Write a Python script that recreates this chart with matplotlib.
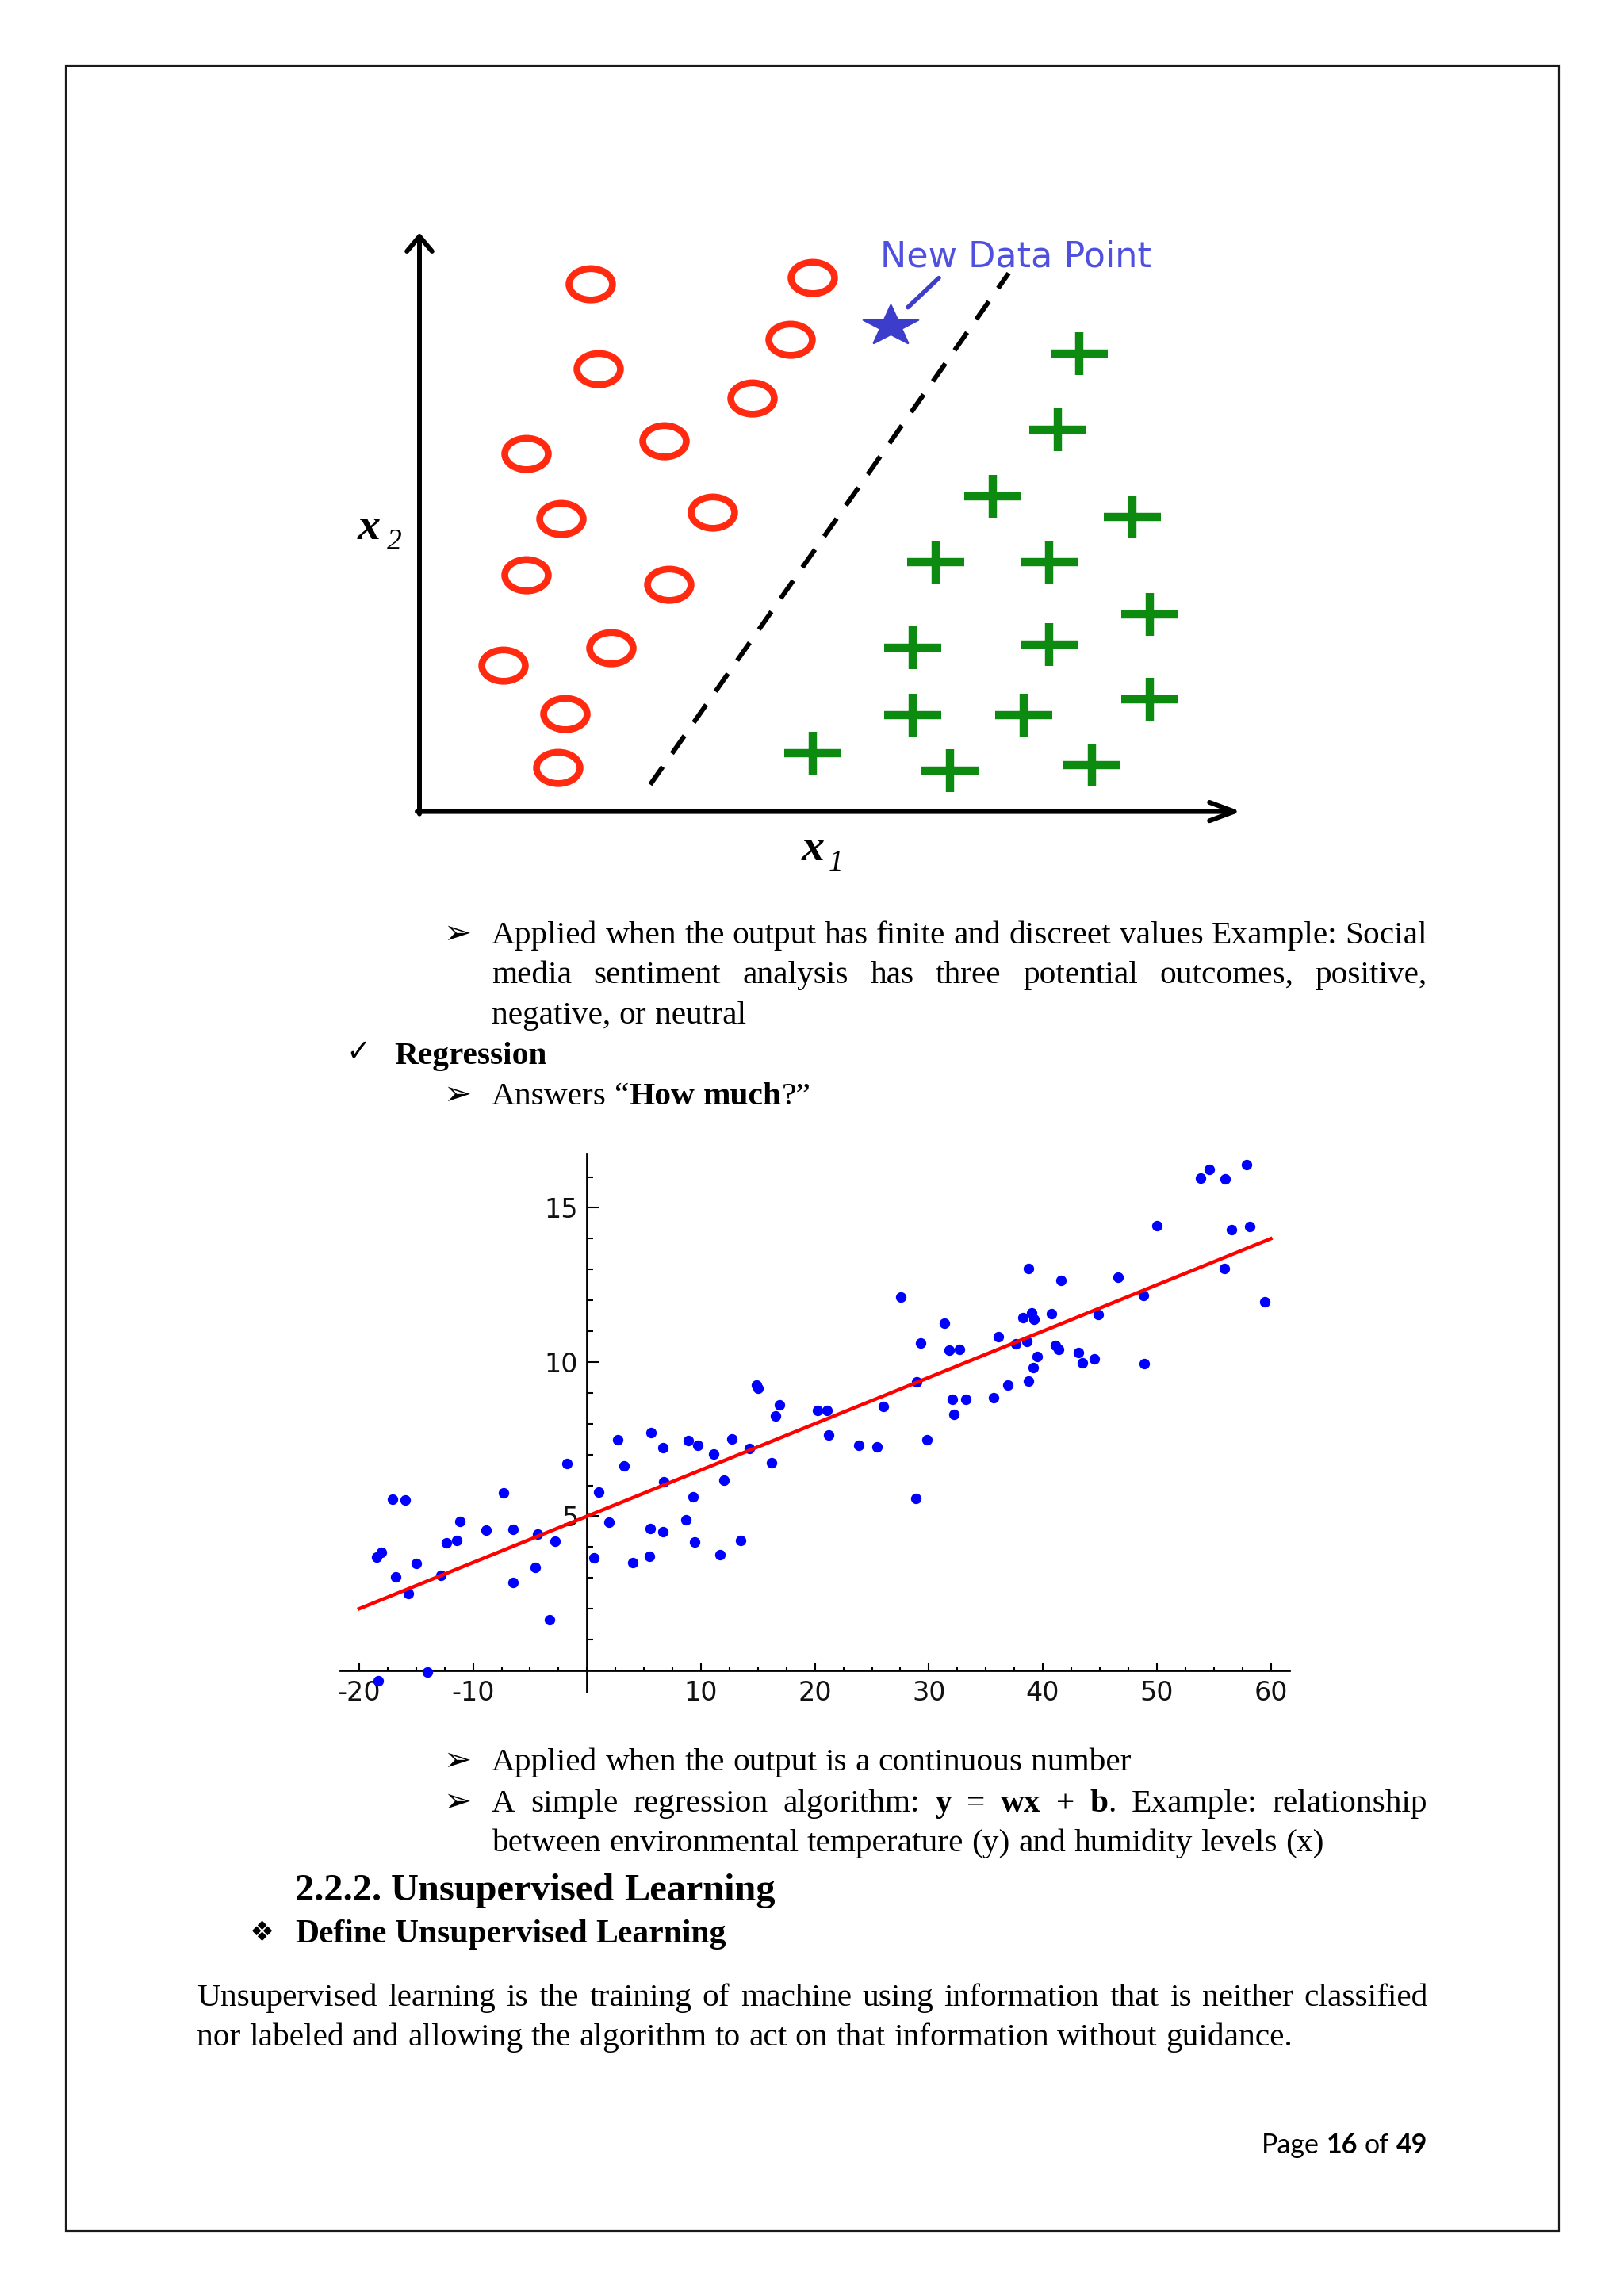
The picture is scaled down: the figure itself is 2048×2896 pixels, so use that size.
import numpy as np
import matplotlib
matplotlib.use('Agg')
import matplotlib.pyplot as plt
from matplotlib.path import Path
from matplotlib.markers import MarkerStyle
from matplotlib.transforms import Affine2D
from matplotlib.patches import Rectangle

plt.rcParams['axes.unicode_minus'] = False

# --- classification sketch: points in (x1, x2) units ---
circle_x1 = [2.16, 4.96, 2.26, 4.68, 4.20, 3.09, 1.35, 1.79, 3.70, 1.35, 3.15, 2.42, 1.06, 1.84, 1.75]
circle_x2 = [6.65, 6.73, 5.58, 5.95, 5.21, 4.67, 4.51, 3.69, 3.77, 2.98, 2.86, 2.06, 1.84, 1.23, 0.55]
plus_x1 = [8.32, 8.05, 7.23, 8.99, 6.51, 7.94, 9.21, 6.22, 7.94, 6.22, 7.62, 9.21, 6.69, 8.48, 4.96]
plus_x2 = [5.78, 4.82, 3.98, 3.72, 3.15, 3.15, 2.49, 2.07, 2.11, 1.22, 1.22, 1.42, 0.52, 0.59, 0.74]
new_point = (5.94, 6.13)
boundary_x1 = [2.91, 7.43]
boundary_x2 = [0.34, 6.79]

# --- regression scatter ---
reg_x = [-18.44, -18.08, -17.06, -15.96, -16.79, -15.69, -15.0, -18.35, -14.03, -12.85,
         -12.36, -11.42, -11.17, -8.86, -7.35, -6.52, -6.52, -4.57, -4.32, -3.30,
         -2.83, -1.79, 0.61, 1.05, 1.93, 2.72, 3.22, 3.99, 5.50, 5.56,
         5.59, 6.66, 6.69, 6.72, 8.67, 8.86, 9.27, 9.41, 9.69, 11.12,
         11.64, 12.0, 12.69, 13.46, 14.23, 14.86, 15.0, 16.21, 16.54, 16.92,
         20.2, 21.05, 21.21, 23.88, 25.42, 26.0, 27.52, 28.87, 28.92, 29.25,
         29.80, 31.34, 31.81, 32.69, 32.03, 33.21, 32.19, 35.66, 36.08, 36.90,
         37.61, 38.25, 38.60, 38.72, 38.74, 39.04, 39.21, 39.18, 39.49, 40.75,
         41.14, 41.41, 41.60, 43.09, 43.50, 44.50, 44.83, 46.61, 48.81, 48.90,
         50.0, 53.85, 54.59, 56.03, 57.90, 56.58, 58.14, 55.94, 59.49]
reg_y = [3.67, 3.83, 5.54, 5.52, 3.04, 2.48, 3.48, -0.33, -0.05, 3.08,
         4.15, 4.22, 4.83, 4.56, 5.76, 4.57, 2.86, 3.35, 4.43, 1.64,
         4.19, 6.72, 3.66, 5.78, 4.81, 7.47, 6.62, 3.49, 3.71, 4.60,
         7.71, 7.22, 4.49, 6.12, 4.88, 7.46, 5.62, 4.17, 7.31, 7.02,
         3.76, 6.18, 7.50, 4.21, 7.20, 9.26, 9.14, 6.73, 8.24, 8.62,
         8.44, 8.44, 7.63, 7.29, 7.24, 8.55, 12.12, 5.59, 9.35, 10.62,
         7.47, 11.27, 10.39, 10.40, 8.78, 8.80, 8.29, 8.85, 10.83, 9.26,
         10.58, 11.43, 10.68, 13.04, 9.39, 11.60, 11.40, 9.83, 10.17, 11.57,
         10.54, 10.40, 12.64, 10.31, 9.98, 10.10, 11.53, 12.76, 12.17, 9.95,
         14.41, 15.97, 16.24, 15.94, 16.41, 14.28, 14.40, 13.04, 11.95]
fit_slope = 0.15
fit_intercept = 5.0
fit_range = [-20, 60]
xtick_vals = [-20, -10, 10, 20, 30, 40, 50, 60]
ytick_vals = [5, 10, 15]

W, H = 2048, 2896
fig = plt.figure(figsize=(W / 100, H / 100), dpi=100)
fig.patch.set_facecolor('white')
page = fig.add_axes([0, 0, 1, 1])
page.set_xlim(0, W)
page.set_ylim(H, 0)
page.axis('off')
renderer = fig.canvas.get_renderer()


def px_rect(x0, y0, x1, y1):
    return [x0 / W, 1 - y1 / H, (x1 - x0) / W, (y1 - y0) / H]


# page border
page.add_patch(Rectangle((83, 83), 1882.5, 2730.5, fill=False, lw=1.6, ec='#1a1a1a'))

# ---------------- classification sketch ----------------
ax1 = fig.add_axes(px_rect(429, 223.6, 1629, 1133.6))
ax1.set_xlim(-1, 11)
ax1.set_ylim(-1.1, 8.0)
ax1.axis('off')

ax1.annotate('', xy=(0, 7.30), xytext=(0, -0.03),
             arrowprops=dict(arrowstyle='->,head_length=0.45,head_width=0.38', lw=4.3,
                             color='black', mutation_scale=30, shrinkA=0, shrinkB=0))
ax1.annotate('', xy=(10.36, 0), xytext=(-0.03, 0),
             arrowprops=dict(arrowstyle='->,head_length=0.75,head_width=0.28', lw=4.3,
                             color='black', mutation_scale=30, shrinkA=0, shrinkB=0))

ring = MarkerStyle(Path.unit_circle().transformed(Affine2D().scale(1.0, 0.72)))
ax1.scatter(circle_x1, circle_x2, marker=ring, s=1560, facecolors='none',
            edgecolors='#ff2a10', linewidths=6.2, zorder=3)

plus = MarkerStyle(Path([(-1, 0), (1, 0), (0, -0.74), (0, 0.74)],
                        [Path.MOVETO, Path.LINETO, Path.MOVETO, Path.LINETO]))
ax1.scatter(plus_x1, plus_x2, marker=plus, s=2750, facecolors='none',
            edgecolors='#0d8a10', linewidths=7.5, zorder=3)

ax1.plot(boundary_x1, boundary_x2, color='black', lw=4.3, ls=(0, (4.6, 3.4)), zorder=2)

star = MarkerStyle(MarkerStyle('*').get_path().transformed(Affine2D().scale(1.0, 0.72)))
ax1.scatter([new_point[0]], [new_point[1]], marker=star, s=2500, color='#3d3dcc',
            edgecolors='#3d3dcc', linewidths=2, zorder=4)
ax1.annotate('', xy=(6.16, 6.36), xytext=(6.55, 6.73),
             arrowprops=dict(arrowstyle='-', lw=4, color='#3d3dcc', shrinkA=0, shrinkB=0))
ax1.text(7.52, 7.0, 'New Data Point', fontsize=32, color='#5050e0', family='DejaVu Sans',
         ha='center', va='center')

# axis names x2 and x1
page.text(451, 680, 'x', fontsize=42, family='Liberation Serif', weight='bold', style='italic',
          va='baseline', ha='left')
page.text(488, 693, '2', fontsize=27, family='Liberation Serif', style='italic',
          va='baseline', ha='left')
page.text(1011, 1085, 'x', fontsize=42, family='Liberation Serif', weight='bold', style='italic',
          va='baseline', ha='left')
page.text(1045, 1098, '1', fontsize=27, family='Liberation Serif', style='italic',
          va='baseline', ha='left')

# ---------------- regression scatter ----------------
ax2 = fig.add_axes(px_rect(428.5, 1455.4, 1625.5, 2134.2))
ax2.set_xlim(-21.7, 61.6)
ax2.set_ylim(-0.7, 16.75)
ax2.patch.set_alpha(0)
for side in ['top', 'right']:
    ax2.spines[side].set_visible(False)
for side in ['left', 'bottom']:
    ax2.spines[side].set_position(('data', 0))
    ax2.spines[side].set_linewidth(2)
ax2.set_xticks(xtick_vals)
ax2.set_xticks(np.arange(-20, 61, 2.5), minor=True)
ax2.set_yticks(ytick_vals)
ax2.set_yticks(np.arange(1, 17, 1), minor=True)
ax2.tick_params(axis='x', which='major', direction='in', length=7.5, width=1.5, labelsize=24, pad=9)
ax2.tick_params(axis='x', which='minor', direction='in', length=3.6, width=1.5)
ax2.tick_params(axis='y', which='major', direction='in', length=11.5, width=1.5, labelsize=24, pad=8)
ax2.tick_params(axis='y', which='minor', direction='in', length=5.8, width=1.5)
for lab in ax2.get_xticklabels() + ax2.get_yticklabels():
    lab.set_family('DejaVu Sans')
    lab.set_color('#111111')

ax2.scatter(reg_x, reg_y, s=92, color='#0000ff', linewidths=0, zorder=3, clip_on=False)
ax2.plot(fit_range, [fit_slope * v + fit_intercept for v in fit_range], color='#ff0000',
         lw=3.2, zorder=4)


# ---------------- page text ----------------
def parse_words(line):
    words = []
    bold = False
    for raw in line.split(' '):
        segs = []
        buf = ''
        for ch in raw:
            if ch == '*':
                if buf:
                    segs.append((buf, bold))
                    buf = ''
                bold = not bold
            else:
                buf += ch
        if buf:
            segs.append((buf, bold))
        words.append(segs)
    return words


def text_width(s, **kw):
    t = page.text(0, 0, s, **kw)
    w = t.get_window_extent(renderer).width
    t.remove()
    return w


def draw_line(line, x0, y, x1=None, size=29.8, family='Liberation Serif', align='left'):
    words = parse_words(line)
    placed = []
    total = 0
    for segs in words:
        parts = []
        ww = 0
        for s, b in segs:
            t = page.text(0, y, s, fontsize=size, family=family,
                          weight='bold' if b else 'normal', va='baseline', ha='left', color='black')
            w = t.get_window_extent(renderer).width
            parts.append((t, w))
            ww += w
        placed.append((parts, ww))
        total += ww
    space = (text_width('n n', fontsize=size, family=family)
             - text_width('nn', fontsize=size, family=family))
    if x1 is not None and len(placed) > 1:
        gap = (x1 - x0 - total) / (len(placed) - 1)
    else:
        gap = space
    x = x0 - total - gap * (len(placed) - 1) if align == 'right' else x0
    for parts, ww in placed:
        xx = x
        for t, w in parts:
            t.set_x(xx)
            xx += w
        x += ww + gap


def bullet(ch, x, y, size=30):
    page.text(x, y, ch, fontsize=size, family='DejaVu Sans', va='baseline', ha='left', color='black')


bullet('➢', 559, 1190)
draw_line('Applied when the output has finite and discreet values Example: Social', 620, 1190, 1800)
draw_line('media sentiment analysis has three potential outcomes, positive,', 620, 1240, 1800)
draw_line('negative, or neutral', 620, 1291)
bullet('✓', 436, 1338, size=27)
draw_line('*Regression*', 497, 1342)
bullet('➢', 559, 1393)
draw_line('Answers “*How much*?”', 620, 1393)

bullet('➢', 559, 2233)
draw_line('Applied when the output is a continuous number', 620, 2233)
bullet('➢', 559, 2285)
draw_line('A simple regression algorithm: *y* = *wx* + *b*. Example: relationship', 620, 2285, 1800)
draw_line('between environmental temperature (y) and humidity levels (x)', 620, 2335)
draw_line('*2.2.2. Unsupervised Learning*', 372, 2397, size=34.8)
bullet('❖', 314, 2448, size=25)
draw_line('*Define Unsupervised Learning*', 372, 2450, size=30)
draw_line('Unsupervised learning is the training of machine using information that is neither classified',
          248, 2530, 1801)
draw_line('nor labeled and allowing the algorithm to act on that information without guidance.', 248, 2580)

draw_line('Page *16* of *49*', 1800, 2716, size=24.5, family='Lato', align='right')

fig.savefig('out.png', dpi=100, facecolor='white')
